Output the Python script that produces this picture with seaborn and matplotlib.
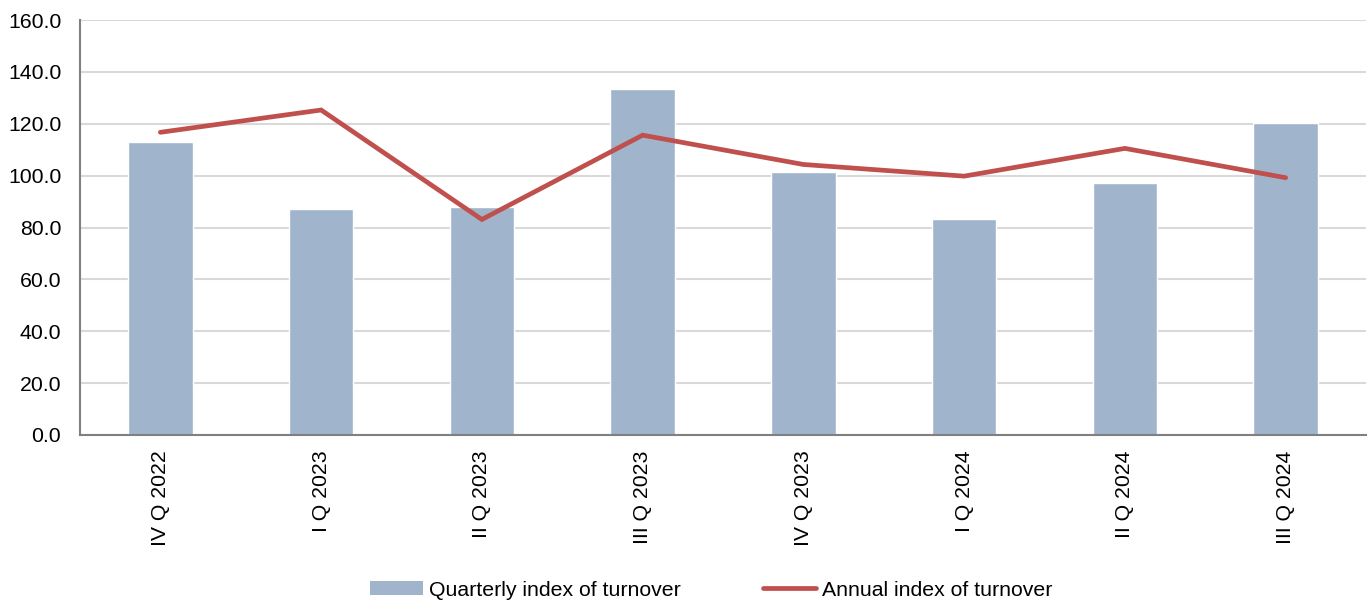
import numpy as np
import pandas as pd
import matplotlib
matplotlib.use("Agg")
import matplotlib.pyplot as plt
import seaborn as sns
from matplotlib.patches import Patch
from matplotlib.lines import Line2D

quarters = ["IV Q 2022", "I Q 2023", "II Q 2023", "III Q 2023",
            "IV Q 2023", "I Q 2024", "II Q 2024", "III Q 2024"]
quarterly = [112.8, 87.2, 87.9, 133.5, 101.5, 83.4, 97.3, 120.2]
annual = [116.7, 125.3, 83.1, 115.6, 104.3, 99.8, 110.5, 99.2]

BAR_COLOR = "#A0B5CB"
LINE_COLOR = "#C0504D"

sns.set_style("white")
plt.rcParams['font.family'] = ['Liberation Sans', 'DejaVu Sans']
plt.rcParams['text.color'] = "black"
plt.rcParams['xtick.labelcolor'] = "black"
plt.rcParams['ytick.labelcolor'] = "black"

df = pd.DataFrame({"quarter": quarters, "quarterly": quarterly, "annual": annual})

fig = plt.figure(figsize=(13.71, 6.04), dpi=100)
ax = fig.add_axes([80 / 1371, 1 - 435 / 604, 1286 / 1371, 415 / 604])

sns.barplot(data=df, x="quarter", y="quarterly", color=BAR_COLOR, width=0.4,
            saturation=1, ax=ax, zorder=2)
ax.plot(np.arange(len(quarters)), df["annual"], color=LINE_COLOR, lw=3.4,
        solid_capstyle="round", solid_joinstyle="miter", zorder=3)

ax.set_ylim(0, 160)
ax.set_xlim(-0.5, len(quarters) - 0.5)
ax.set_yticks(np.arange(0, 161, 20))
ax.set_yticklabels([f"{v:.1f}" for v in np.arange(0, 161, 20)], fontsize=15.3)
ax.set_xticks(np.arange(len(quarters)))
ax.set_xticklabels(quarters, rotation=90, fontsize=15.3)
ax.set_xticks(np.arange(-0.5, len(quarters)), minor=True)
ax.tick_params(axis="x", which="major", length=0, pad=11)
ax.tick_params(axis="x", which="minor", length=5, color="#808080", width=1.5)
ax.tick_params(axis="y", length=4.5, color="#808080", width=1.5, pad=9)
ax.set_xlabel("")
ax.set_ylabel("")

ax.yaxis.grid(True, color="#D9D9D9", lw=1.5, zorder=0)
ax.set_axisbelow(True)
for side in ["top", "right"]:
    ax.spines[side].set_visible(False)
for side in ["left", "bottom"]:
    ax.spines[side].set_color("#808080")
    ax.spines[side].set_linewidth(1.5)

handles = [Patch(facecolor=BAR_COLOR, edgecolor="none"),
           Line2D([0], [0], color=LINE_COLOR, lw=3.4, solid_capstyle="round")]
fig.legend(handles, ["Quarterly index of turnover", "Annual index of turnover"],
           loc="center", bbox_to_anchor=(711 / 1371, 1 - 590 / 604), ncol=2, frameon=False,
           fontsize=15.3, handlelength=2.5, handleheight=0.6, handletextpad=0.25,
           columnspacing=3.9, borderpad=0)

fig.savefig("out.png", dpi=100)
